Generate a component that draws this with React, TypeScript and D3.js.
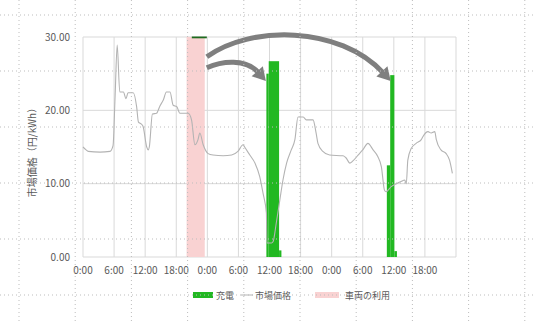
import React from "react";
import * as d3 from "d3";

// ---- data ----
const xTickHours = [0, 6, 12, 18, 24, 30, 36, 42, 48, 54, 60, 66];
const xTickLabels = ["0:00", "6:00", "12:00", "18:00", "0:00", "6:00", "12:00", "18:00", "0:00", "6:00", "12:00", "18:00"];
const yTicks = [0, 10, 20, 30];

const priceHours = [0, 0.6, 1, 3.3, 5.2, 5.8, 6.2, 6.6, 7.1, 7.8, 8.3, 8.7, 9.7, 10.35, 10.7, 11.3, 11.6, 12.3, 12.6, 12.8, 13.4, 14.2, 14.85, 15.5, 16.1, 16.8, 17.4, 18.1, 18.7, 20.3, 20.95, 21.6, 22.2, 22.55, 23.2, 24.15, 25.1, 27.05, 28.7, 29.9, 30.9, 31.2, 32.2, 33.2, 34.1, 34.75, 35.4, 35.5, 36.4, 36.7, 37.3, 38.0, 38.6, 39.3, 40.2, 40.9, 41.5, 42.5, 43.1, 44.4, 45.0, 45.35, 46.3, 47.6, 50.2, 50.8, 51.5, 52.1, 53.1, 54.0, 55.0, 56.0, 56.9, 57.6, 58.2, 58.5, 59.5, 60.5, 61.4, 62.1, 62.4, 62.7, 63.35, 64.3, 65.3, 65.6, 66.6, 67.2, 67.9, 68.2, 69.1, 70.1, 70.75, 71.3];
const priceValues = [15.0, 14.6, 14.4, 14.3, 14.4, 15.2, 22.0, 28.9, 22.5, 22.5, 21.6, 22.4, 22.4, 20.5, 18.4, 18.1, 17.8, 15.0, 14.6, 15.0, 19.5, 19.6, 20.6, 21.4, 22.5, 22.5, 20.7, 20.5, 19.6, 19.6, 18.7, 15.3, 16.0, 16.9, 15.3, 14.1, 13.9, 13.8, 13.9, 14.4, 15.3, 15.0, 13.9, 12.8, 11.0, 8.7, 6.0, 1.9, 1.9, 2.1, 4.6, 7.8, 10.5, 12.8, 14.6, 16.0, 19.1, 19.1, 18.7, 18.7, 16.9, 15.5, 14.4, 13.9, 13.8, 13.5, 12.8, 13.1, 13.9, 14.6, 15.5, 14.6, 13.7, 12.3, 9.1, 8.9, 9.6, 10.0, 10.3, 10.5, 10.0, 13.2, 14.8, 15.5, 16.0, 16.4, 17.1, 16.9, 17.1, 16.0, 14.6, 14.1, 13.2, 11.4];

const chargeStart = [35.4, 35.85, 37.85, 58.65, 59.3, 60.1];
const chargeEnd = [35.85, 37.85, 38.3, 59.3, 60.1, 60.6];
const chargeValue = [25.0, 26.7, 0.9, 12.5, 24.8, 0.8];

const capStart = [21.0];
const capEnd = [23.9];
const capValue = [30];

const useStart = [20.0];
const useEnd = [23.5];

// arrows: [start, c1, c2, tip] in (hour, value)
const arrowBig = [[23.9, 27.3], [32.2, 31.6], [49.5, 31.6], [59.4, 24.0]];
const arrowSmall = [[23.9, 25.8], [26.8, 26.7], [31.4, 27.1], [35.3, 24.0]];

const legendLabels = ["充電", "市場価格", "車両の利用"];

// ---- layout ----
const W = 536, H = 322;
const x = d3.scaleLinear().domain([0, 72]).range([83, 456]);
const y = d3.scaleLinear().domain([0, 30]).range([257, 37]);

const GREEN = "#22b822";
const PINK = "#f9d2d2";
const GRID = "#d9d9d9";
const TEXT = "#595959";
const FONT = "'Noto Sans CJK JP', 'Noto Sans', sans-serif";

function arrowPaths(pts: number[][]) {
  const P = pts.map(([h, v]) => [x(h), y(v)]);
  const [s, c1, c2, tip] = P;
  const dx = tip[0] - c2[0], dy = tip[1] - c2[1];
  const len = Math.hypot(dx, dy);
  const ux = dx / len, uy = dy / len;
  const L = 13, hw = 7.5;
  const bx = tip[0] - L * ux, by = tip[1] - L * uy;
  const ex = bx + 2 * ux, ey = by + 2 * uy;
  const p = d3.path();
  p.moveTo(s[0], s[1]);
  p.bezierCurveTo(c1[0], c1[1], c2[0], c2[1], ex, ey);
  const head = `M${tip[0]},${tip[1]}L${bx - hw * uy},${by + hw * ux}L${bx + hw * uy},${by - hw * ux}Z`;
  return { line: p.toString(), head };
}

export default function App() {
  const line = d3
    .line<number>()
    .x((_, i) => x(priceHours[i]))
    .y((d) => y(d))
    .curve(d3.curveMonotoneX)(priceValues) as string;

  const vDots = d3.range(10).map((i) => 19 + i * 56.2);
  const hDots = d3.range(6).map((i) => 15 + i * 56);
  const gridHours = d3.range(0, 73, 6);

  const a1 = arrowPaths(arrowBig);
  const a2 = arrowPaths(arrowSmall);

  return (
    <svg width={W} height={H} style={{ position: "absolute", left: 0, top: 0, background: "#fff" }} fontFamily={FONT}>
      {/* plot gridlines */}
      {yTicks.map((t) => (
        <line key={"gy" + t} x1={x(0)} x2={x(72)} y1={y(t)} y2={y(t)} stroke={GRID} strokeWidth={1} />
      ))}
      {gridHours.map((h) => (
        <line key={"gx" + h} x1={x(h)} x2={x(h)} y1={y(0)} y2={y(30)} stroke={GRID} strokeWidth={1} />
      ))}

      {/* vehicle use band */}
      {useStart.map((s, i) => (
        <rect key={"u" + i} x={x(s)} y={y(30)} width={x(useEnd[i]) - x(s)} height={y(0) - y(30)} fill={PINK} />
      ))}

      {/* charge bars */}
      {chargeStart.map((s, i) => (
        <rect key={"c" + i} x={x(s)} y={y(chargeValue[i])} width={x(chargeEnd[i]) - x(s)} height={y(0) - y(chargeValue[i])} fill={GREEN} />
      ))}
      {capStart.map((s, i) => (
        <rect key={"cap" + i} x={x(s)} y={y(capValue[i]) - 0.5} width={x(capEnd[i]) - x(s)} height={1.8} fill="#1f6b1f" />
      ))}

      {/* price line */}
      <path d={line} fill="none" stroke="#b3b3b3" strokeWidth={1.1} />

      {/* arrows */}
      {[a1, a2].map((a, i) => (
        <g key={"a" + i}>
          <path d={a.line} fill="none" stroke="#7f7f7f" strokeWidth={5} />
          <path d={a.head} fill="#7f7f7f" />
        </g>
      ))}

      {/* y tick labels */}
      {yTicks.map((t) => (
        <text key={"yl" + t} x={70} y={y(t)} dy="0.35em" textAnchor="end" fontSize={10} fill={TEXT}>
          {d3.format(".2f")(t)}
        </text>
      ))}
      {/* x tick labels */}
      {xTickHours.map((h, i) => (
        <text key={"xl" + i} x={x(h)} y={274} textAnchor="middle" fontSize={10} fill={TEXT}>
          {xTickLabels[i]}
        </text>
      ))}
      {/* y title */}
      <text transform={`translate(36,${150}) rotate(-90)`} textAnchor="middle" fontSize={10} fill={TEXT}>
        市場価格（円/kWh）
      </text>

      {/* legend */}
      <rect x={193} y={292} width={20} height={6} fill={GREEN} />
      <text x={216} y={299} fontSize={9} fill={TEXT}>{legendLabels[0]}</text>
      <line x1={241} x2={253} y1={295} y2={295} stroke="#b3b3b3" strokeWidth={1} />
      <text x={255} y={299} fontSize={9} fill={TEXT}>{legendLabels[1]}</text>
      <rect x={315} y={292} width={24} height={6} fill={PINK} />
      <text x={345} y={299} fontSize={9} fill={TEXT}>{legendLabels[2]}</text>

      {/* page dotted grid */}
      {vDots.map((vx, i) => (
        <line key={"vd" + i} x1={vx} x2={vx} y1={0} y2={H} stroke="#bdbdbd" strokeWidth={1} strokeDasharray="1,3" />
      ))}
      {hDots.map((hy, i) => (
        <line key={"hd" + i} x1={0} x2={W} y1={hy} y2={hy} stroke="#bdbdbd" strokeWidth={1} strokeDasharray="1,3" />
      ))}
    </svg>
  );
}
